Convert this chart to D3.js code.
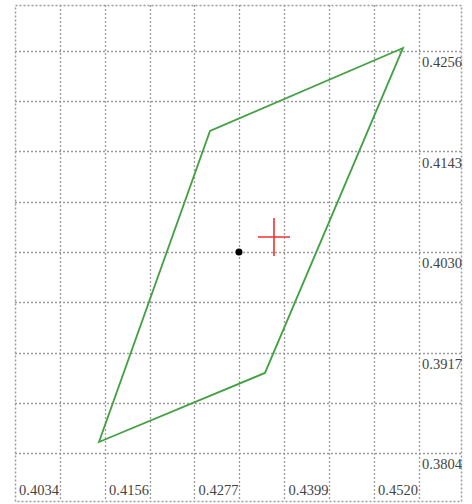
<!DOCTYPE html>
<html>
<head>
<meta charset="utf-8">
<script src="https://cdn.jsdelivr.net/npm/d3@7"></script>
<style>
  html, body { margin: 0; padding: 0; background: #fff; }
  svg { display: block; }
</style>
</head>
<body>
<svg id="chart" width="472" height="504"></svg>
<script>
// ---- data ----
const xTickLabels = ["0.4034", "0.4156", "0.4277", "0.4399", "0.4520"];
const yTickLabels = ["0.4256", "0.4143", "0.4030", "0.3917", "0.3804"];
const polygonX = [0.45593, 0.42980, 0.41477, 0.43724];
const polygonY = [0.42594, 0.41660, 0.38164, 0.38940];
const dotX = [0.43372];
const dotY = [0.40300];
const crossX = [0.43846];
const crossY = [0.40469];

// ---- scales ----
const svg = d3.select("#chart");
const xVals = xTickLabels.map(Number);
const yVals = yTickLabels.map(Number);
const x = d3.scaleLinear().domain([xVals[0], xVals[xVals.length - 1]]).range([15, 374]);
const y = d3.scaleLinear().domain([yVals[0], yVals[yVals.length - 1]]).range([51, 453]);

// grid values: ticks plus midpoints
const xStep = (xVals[xVals.length - 1] - xVals[0]) / (xVals.length - 1) / 2;
const yStep = (yVals[0] - yVals[yVals.length - 1]) / (yVals.length - 1) / 2;
const xGrid = d3.range(1, 10).map(k => xVals[0] + k * xStep);
const yGrid = d3.range(0, 9).map(k => yVals[0] - k * yStep);

const gridColor = "#9c9c9c";
const dash = "2,2";

const g = svg.append("g");
// frame
g.append("rect")
  .attr("x", 15.5).attr("y", 5.5).attr("width", 446).attr("height", 496)
  .attr("fill", "none").attr("stroke", gridColor).attr("stroke-width", 1.5)
  .attr("stroke-dasharray", dash);

g.selectAll("line.vx").data(xGrid).join("line")
  .attr("x1", d => Math.round(x(d)) + 0.5).attr("x2", d => Math.round(x(d)) + 0.5)
  .attr("y1", 5).attr("y2", 501)
  .attr("stroke", gridColor).attr("stroke-width", 1.3).attr("stroke-dasharray", dash);

g.selectAll("line.hy").data(yGrid).join("line")
  .attr("y1", d => Math.round(y(d)) + 0.5).attr("y2", d => Math.round(y(d)) + 0.5)
  .attr("x1", 15).attr("x2", 461)
  .attr("stroke", gridColor).attr("stroke-width", 1.3).attr("stroke-dasharray", dash);

// labels
const font = "'Liberation Serif', 'DejaVu Serif', serif";
svg.selectAll("text.xl").data(xTickLabels).join("text")
  .attr("x", d => x(+d) + 4).attr("y", 495)
  .attr("font-family", font).attr("font-size", 14.5).attr("fill", "#444")
  .text(d => d);

svg.selectAll("text.yl").data(yTickLabels).join("text")
  .attr("x", 422).attr("y", d => y(+d) + 16)
  .attr("font-family", font).attr("font-size", 14.5).attr("fill", "#444")
  .text(d => d);

// polygon
const pts = polygonX.map((v, i) => [x(v), y(polygonY[i])]);
svg.append("path")
  .attr("d", d3.line()(pts) + "Z")
  .attr("fill", "none").attr("stroke", "#43a043").attr("stroke-width", 1.8)
  .attr("stroke-linejoin", "miter");

// dot
svg.selectAll("circle.dot").data(dotX).join("circle")
  .attr("cx", d => x(d)).attr("cy", (d, i) => y(dotY[i])).attr("r", 3.5)
  .attr("fill", "#000");

// cross
crossX.forEach((cx, i) => {
  const px = x(cx), py = y(crossY[i]);
  svg.append("line").attr("x1", px - 16).attr("x2", px + 16).attr("y1", py).attr("y2", py)
    .attr("stroke", "#f03030").attr("stroke-width", 1.6);
  svg.append("line").attr("x1", px).attr("x2", px).attr("y1", py - 19).attr("y2", py + 19)
    .attr("stroke", "#f03030").attr("stroke-width", 1.6);
});
</script>
</body>
</html>
